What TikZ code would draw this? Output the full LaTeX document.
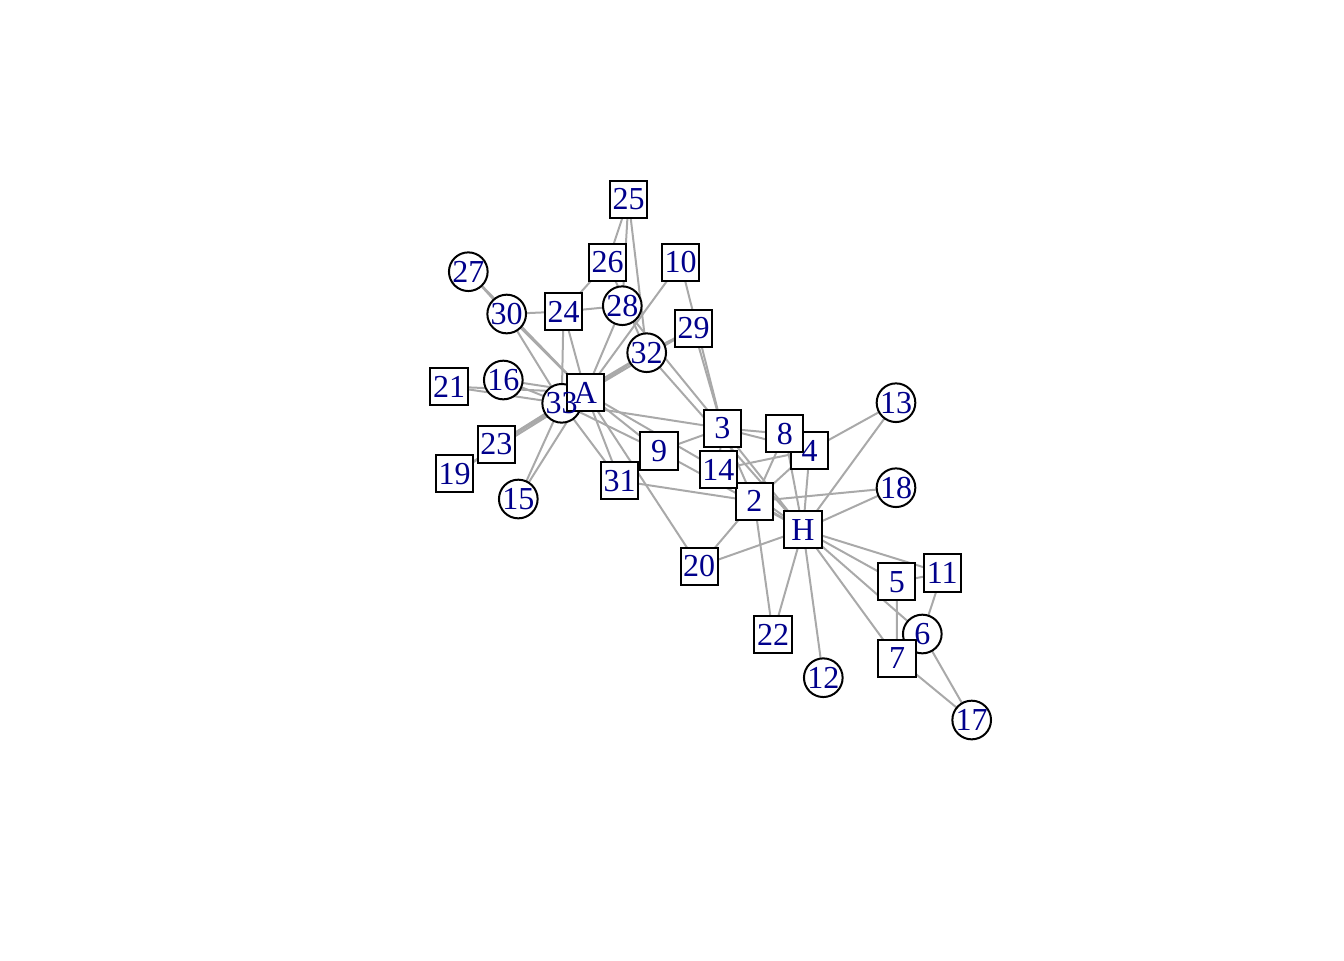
\documentclass[tikz,border=0pt]{standalone}
\usepackage{fontspec}
\setmainfont{Liberation Serif}
\usetikzlibrary{backgrounds}
\definecolor{lblblue}{RGB}{0,0,139}
\definecolor{edgegray}{RGB}{169,169,169}
\tikzset{
  sq/.style={draw=black, fill=white, line width=0.75pt, rectangle, inner sep=0pt, minimum size=13.9pt},
  ci/.style={draw=black, fill=white, line width=0.75pt, circle, inner sep=0pt, minimum size=14.5pt},
  lbl/.style={text=lblblue, inner sep=0pt, font=\fontsize{12}{14}\selectfont},
  edge/.style={draw=edgegray, line width=0.75pt}
}
\begin{document}
\begin{tikzpicture}[x=0.375pt, y=-0.375pt]
\path[use as bounding box] (0,0) rectangle (1344,960);
% vertices in order 1..34
\foreach \n/\x/\y/\s/\t in {
 1/803/529.7/sq/H, 2/754.3/501.3/sq/2, 3/722.3/428.2/sq/3, 4/809.7/450.5/sq/4,
 5/896.9/581.8/sq/5, 6/922.3/634/ci/6, 7/897/658.5/sq/7, 8/784.8/433.8/sq/8,
 9/659/451/sq/9, 10/680.5/262.5/sq/10, 11/942.3/573/sq/11, 12/823.3/677.7/ci/12,
 13/896/402.7/ci/13, 14/718.3/469.5/sq/14, 15/518.3/499/ci/15, 16/503.3/380/ci/16,
 17/971.7/720/ci/17, 18/896/487.7/ci/18, 19/454.7/473.7/sq/19, 20/699.2/566.3/sq/20,
 21/449/386.5/sq/21, 22/773/634.8/sq/22, 23/496.3/444.3/sq/23, 24/563.5/311.5/sq/24,
 25/628.5/199.5/sq/25, 26/607.5/262.5/sq/26, 27/468.3/271.7/ci/27, 28/622.3/305.7/ci/28,
 29/693.5/328.5/sq/29, 30/506.7/314/ci/30, 31/619.7/480.8/sq/31, 32/646.7/352.7/ci/32,
 33/561.7/403.3/ci/33, 34/585.5/392.5/sq/A}
{
  \node[\s] (v\n) at (\x,\y) {};
}
% labels on top of all vertices
\foreach \n/\t in {1/H,2/2,3/3,4/4,5/5,6/6,7/7,8/8,9/9,10/10,11/11,12/12,13/13,14/14,15/15,16/16,17/17,18/18,19/19,20/20,21/21,22/22,23/23,24/24,25/25,26/26,27/27,28/28,29/29,30/30,31/31,32/32,33/33,34/A}
{
  \node[lbl] (t\n) at (v\n.center) {\t};
}
% edges behind
\begin{scope}[on background layer]
\foreach \a/\b in {
 1/2,1/3,1/4,1/5,1/6,1/7,1/8,1/9,1/11,1/12,1/13,1/14,1/18,1/20,1/22,1/32,
 2/3,2/4,2/8,2/14,2/18,2/20,2/22,2/31,
 3/4,3/8,3/9,3/10,3/14,3/28,3/29,3/33,
 4/8,4/13,4/14,
 5/7,5/11,
 6/7,6/11,6/17,
 7/17,
 9/31,9/33,9/34,
 10/34,
 14/34,
 15/33,15/34,
 16/33,16/34,
 19/33,19/34,
 20/34,
 21/33,21/34,
 23/33,23/34,
 24/26,24/28,24/30,24/33,24/34,
 25/26,25/28,25/32,
 26/32,
 27/30,27/34,
 28/34,
 29/32,29/34,
 30/33,30/34,
 31/33,31/34,
 32/33,32/34,
 33/34}
{
  \draw[edge] (v\a.center) -- (v\b.center);
}
\end{scope}
\end{tikzpicture}
\end{document}
